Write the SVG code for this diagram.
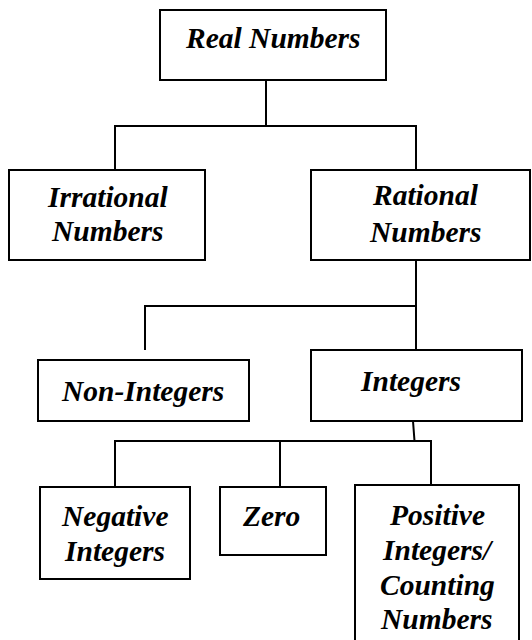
<svg xmlns="http://www.w3.org/2000/svg" width="532" height="640" viewBox="0 0 532 640">
<rect width="532" height="640" fill="#fff"/>
<g id="connectors" fill="none" stroke="#000" stroke-width="2">
<path d="M266,80V126M115,170V126H416V170"/>
<path d="M416,260V350M145,350V306H416"/>
<path d="M413,421L414.5,441M115,487V441H431V485M280,441V487"/>
</g>
<g id="real"><rect x="160" y="10" width="226" height="70" fill="#fff" stroke="#000" stroke-width="2"/><text x="186" y="48" font-family="Liberation Serif" font-size="29.5" font-weight="bold" font-style="italic">Real Numbers</text></g>
<g id="irrational"><rect x="9" y="170" width="196" height="90" fill="#fff" stroke="#000" stroke-width="2"/><text x="48" y="207" font-family="Liberation Serif" font-size="29.5" font-weight="bold" font-style="italic">Irrational</text><text x="52" y="241" font-family="Liberation Serif" font-size="29.5" font-weight="bold" font-style="italic">Numbers</text></g>
<g id="rational"><rect x="311" y="170" width="219" height="90" fill="#fff" stroke="#000" stroke-width="2"/><text x="373" y="205" font-family="Liberation Serif" font-size="29.5" font-weight="bold" font-style="italic">Rational</text><text x="370" y="242" font-family="Liberation Serif" font-size="29.5" font-weight="bold" font-style="italic">Numbers</text></g>
<g id="noninteger"><rect x="38" y="360" width="211" height="61" fill="#fff" stroke="#000" stroke-width="2"/><text x="62" y="401" font-family="Liberation Serif" font-size="29.5" font-weight="bold" font-style="italic">Non-Integers</text></g>
<g id="integers"><rect x="311" y="350" width="211" height="71" fill="#fff" stroke="#000" stroke-width="2"/><text x="361" y="391" font-family="Liberation Serif" font-size="29.5" font-weight="bold" font-style="italic">Integers</text></g>
<g id="negative"><rect x="40" y="487" width="150" height="92" fill="#fff" stroke="#000" stroke-width="2"/><text x="62" y="526" font-family="Liberation Serif" font-size="29.5" font-weight="bold" font-style="italic">Negative</text><text x="65" y="561" font-family="Liberation Serif" font-size="29.5" font-weight="bold" font-style="italic">Integers</text></g>
<g id="zero"><rect x="220" y="487" width="106" height="68" fill="#fff" stroke="#000" stroke-width="2"/><text x="243" y="526" font-family="Liberation Serif" font-size="29.5" font-weight="bold" font-style="italic">Zero</text></g>
<g id="positive"><rect x="355" y="485" width="164" height="170" fill="#fff" stroke="#000" stroke-width="2"/><text x="390" y="525" font-family="Liberation Serif" font-size="29.5" font-weight="bold" font-style="italic">Positive</text><text x="383" y="560" font-family="Liberation Serif" font-size="29.5" font-weight="bold" font-style="italic">Integers/</text><text x="380" y="595" font-family="Liberation Serif" font-size="29.5" font-weight="bold" font-style="italic">Counting</text><text x="381" y="629" font-family="Liberation Serif" font-size="29.5" font-weight="bold" font-style="italic">Numbers</text></g>
</svg>
